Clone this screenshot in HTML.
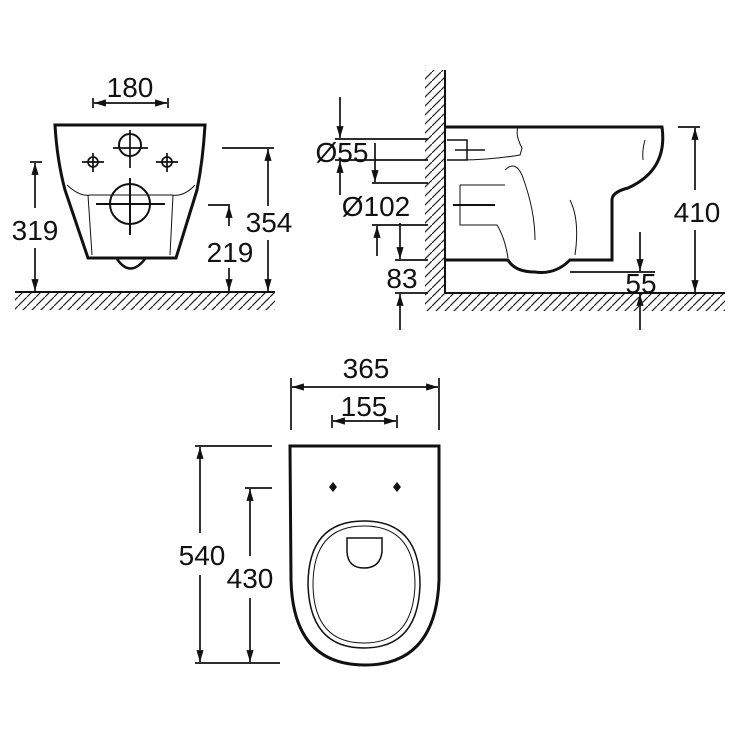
<!DOCTYPE html>
<html><head><style>html,body{margin:0;padding:0;background:#fff}svg{display:block}text{font-family:"Liberation Sans",sans-serif;font-size:28px;fill:#111}</style></head><body>
<svg width="756" height="752" viewBox="0 0 756 752" xmlns="http://www.w3.org/2000/svg">
<defs>
<marker id="a" viewBox="0 0 10 10" refX="10" refY="5" markerWidth="7" markerHeight="7" orient="auto-start-reverse"><path d="M0,2 L10,5 L0,8 z" fill="#111"/></marker>
<pattern id="h" width="9" height="9" patternUnits="userSpaceOnUse"><path d="M0,9 L9,0" stroke="#222" stroke-width="1.2"/></pattern>
</defs>
<g stroke="#111" fill="none" stroke-width="1.7">
<line x1="93" y1="98" x2="93" y2="108"/><line x1="168" y1="98" x2="168" y2="108"/>
<line x1="94" y1="103" x2="167" y2="103" marker-start="url(#a)" marker-end="url(#a)"/>
<path d="M55,125 L205,125 Q203,160 197,190 L176,258 L88,258 L65,190 Q57,160 55,125 Z" stroke-width="3"/>
<path d="M117,259 Q130,278 145,259" stroke-width="2.5"/>
<path d="M67,185 Q80,197 90,195 L172,195 Q184,197 195,185" stroke-width="1"/>
<path d="M88,195 L92,255 M173,195 L170,255" stroke-width="1"/>
<circle cx="130" cy="145" r="11" stroke-width="2"/><line x1="113" y1="148" x2="148" y2="148"/><line x1="130" y1="130" x2="130" y2="168"/>
<circle cx="93" cy="162" r="5"/><line x1="82" y1="162" x2="104" y2="162"/><line x1="93" y1="153" x2="93" y2="172"/>
<circle cx="167" cy="162" r="5"/><line x1="156" y1="162" x2="178" y2="162"/><line x1="167" y1="153" x2="167" y2="172"/>
<circle cx="130" cy="204" r="20" stroke-width="2"/><line x1="96" y1="204" x2="165" y2="204" stroke-width="2"/><line x1="130" y1="178" x2="130" y2="235" stroke-width="2"/>
<line x1="15" y1="292" x2="275" y2="292" stroke-width="2"/>
<rect x="15" y="293" width="260" height="17" fill="url(#h)" stroke="none"/>
<line x1="30" y1="162" x2="42" y2="162"/><line x1="35" y1="163" x2="35" y2="208" marker-start="url(#a)"/><line x1="35" y1="248" x2="35" y2="291" marker-end="url(#a)"/>
<line x1="208" y1="205" x2="230" y2="205"/><line x1="229" y1="206" x2="229" y2="226" marker-start="url(#a)"/><line x1="229" y1="268" x2="229" y2="291" marker-end="url(#a)"/>
<line x1="222" y1="148" x2="274" y2="148"/><line x1="268" y1="149" x2="268" y2="206" marker-start="url(#a)"/><line x1="268" y1="240" x2="268" y2="291" marker-end="url(#a)"/>
<rect x="425" y="70" width="20" height="225" fill="url(#h)" stroke="none"/>
<line x1="445" y1="70" x2="445" y2="293" stroke-width="2"/>
<line x1="445" y1="293" x2="725" y2="293" stroke-width="2"/>
<rect x="425" y="294" width="300" height="17" fill="url(#h)" stroke="none"/>
<path d="M445,127 L662,127 Q668,170 628,188 Q612,192 612,200 L612,260 L570,260 Q555,275 535,272 Q515,272 508,260 L445,260" stroke-width="3"/>
<path d="M447,140 L467,140 L467,160 L447,160 M455,150 L485,150" stroke-width="1.5"/>
<path d="M462,160 Q490,160 520,155 L522,148 Q515,135 518,127" stroke-width="1"/>
<path d="M505,170 Q515,160 522,175 Q535,210 535,240" stroke-width="1"/>
<path d="M460,185 L460,225 L497,225 Q505,238 508,258" stroke-width="1"/><path d="M460,185 L505,185" stroke-width="1"/>
<line x1="453" y1="205" x2="495" y2="205" stroke-width="2"/>
<path d="M570,200 Q580,220 575,255" stroke-width="1"/><path d="M645,140 Q642,150 643,160" stroke-width="1"/>
<line x1="335" y1="139" x2="428" y2="139"/><line x1="335" y1="160" x2="428" y2="160"/>
<line x1="340" y1="97" x2="340" y2="138" marker-end="url(#a)"/><line x1="340" y1="195" x2="340" y2="161" marker-end="url(#a)"/>
<line x1="375" y1="143" x2="375" y2="182" marker-end="url(#a)"/>
<line x1="372" y1="183" x2="428" y2="183"/><line x1="372" y1="225" x2="428" y2="225"/>
<line x1="377" y1="256" x2="377" y2="226" marker-end="url(#a)"/>
<line x1="400" y1="223" x2="400" y2="259" marker-end="url(#a)"/>
<line x1="395" y1="260" x2="428" y2="260"/><line x1="395" y1="293" x2="428" y2="293"/>
<line x1="400" y1="330" x2="400" y2="294" marker-end="url(#a)"/>
<line x1="678" y1="127" x2="700" y2="127"/>
<line x1="695" y1="128" x2="695" y2="190" marker-start="url(#a)"/><line x1="695" y1="230" x2="695" y2="292" marker-end="url(#a)"/>
<line x1="570" y1="272" x2="655" y2="272"/>
<line x1="640" y1="232" x2="640" y2="271" marker-end="url(#a)"/><line x1="640" y1="330" x2="640" y2="294" marker-end="url(#a)"/>
<line x1="291" y1="378" x2="291" y2="430"/><line x1="439" y1="378" x2="439" y2="430"/>
<line x1="292" y1="387" x2="438" y2="387" marker-start="url(#a)" marker-end="url(#a)"/>
<line x1="332" y1="415" x2="332" y2="428"/><line x1="397" y1="415" x2="397" y2="428"/>
<line x1="333" y1="421" x2="396" y2="421" marker-start="url(#a)" marker-end="url(#a)"/>
<path d="M290,446 L439,446 L439,580 Q436,665 365,665 Q293,665 291,580 Z" stroke-width="3"/>
<path d="M364,521 Q420,521 420,585 Q418,648 364,648 Q310,648 308,585 Q308,521 364,521 Z" stroke-width="1.5"/>
<path d="M364,526 Q415,526 415,585 Q413,643 364,643 Q314,643 313,585 Q313,526 364,526 Z" stroke-width="1"/>
<path d="M347,538 L382,538 L382,552 Q380,568 364,568 Q348,568 347,552 Z" stroke-width="1.5"/>
<line x1="195" y1="446" x2="272" y2="446"/><line x1="195" y1="663" x2="280" y2="663"/>
<line x1="200" y1="447" x2="200" y2="533" marker-start="url(#a)"/><line x1="200" y1="575" x2="200" y2="662" marker-end="url(#a)"/>
<line x1="245" y1="488" x2="272" y2="488"/>
<line x1="250" y1="489" x2="250" y2="556" marker-start="url(#a)"/><line x1="250" y1="598" x2="250" y2="662" marker-end="url(#a)"/>
</g>
<g fill="#111"><path d="M333,482 L337,487 L333,492 L329,487 Z"/><path d="M397,482 L401,487 L397,492 L393,487 Z"/></g>
<text x="130" y="97" text-anchor="middle">180</text>
<text x="35" y="240" text-anchor="middle">319</text>
<text x="230" y="262" text-anchor="middle">219</text>
<text x="269" y="232" text-anchor="middle">354</text>
<text x="342" y="162" text-anchor="middle">Ø55</text>
<text x="376" y="216" text-anchor="middle">Ø102</text>
<text x="402" y="288" text-anchor="middle">83</text>
<text x="697" y="222" text-anchor="middle">410</text>
<text x="641" y="293" text-anchor="middle">55</text>
<text x="366" y="378" text-anchor="middle">365</text>
<text x="364" y="416" text-anchor="middle">155</text>
<text x="202" y="565" text-anchor="middle">540</text>
<text x="250" y="588" text-anchor="middle">430</text>
</svg>
</body></html>
